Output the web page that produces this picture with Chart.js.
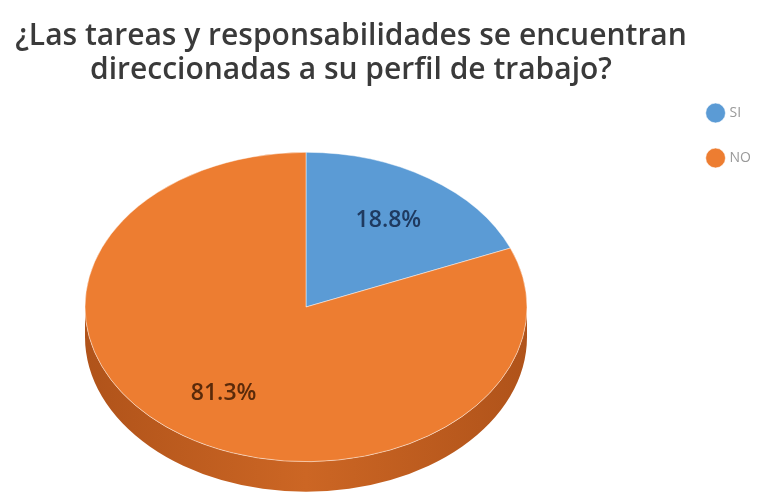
<!DOCTYPE html>
<html>
<head>
<meta charset="utf-8">
<script src="https://cdn.jsdelivr.net/npm/chart.js@4.4.1/dist/chart.umd.min.js"></script>
<style>
  html, body { margin: 0; padding: 0; background: #fff; }
  #wrap { width: 769px; height: 498px; }
</style>
</head>
<body>
<div id="wrap"><canvas id="chart"></canvas></div>
<script>
const titleLines = ['¿Las tareas y responsabilidades se encuentran', 'direccionadas a su perfil de trabajo?'];
const categories = ['SI', 'NO'];
const percentages = [18.8, 81.3];

const sliceColors = ['#5b9bd5', '#ed7d31'];
const sideColors = [['#3f6f9e', '#5a8ec4'], ['#b0531a', '#cc6624']];
const labelColors = ['#1f3a60', '#5a2a0a'];
const FONT = '"Open Sans", "Noto Sans", sans-serif';
const PIE_CENTER = { x: 306, y: 307 }; // where the top face of the pie sits
const TILT = 0.70;      // vertical squash of the pie top
const DEPTH = 30;       // thickness of the 3d edge in px
const LABEL_POS = 0.67; // label distance from centre, share of radius

// fake 3d pie: move + squash the arcs and paint an edge under the front half
const pie3d = {
  id: 'pie3d',
  beforeDatasetsDraw(chart) {
    const ctx = chart.ctx;
    const arcs = chart.getDatasetMeta(0).data;
    const cx = arcs[0].x, cy = arcs[0].y;
    ctx.save();
    ctx.translate(PIE_CENTER.x, PIE_CENTER.y);
    ctx.scale(1, TILT);
    ctx.translate(-cx, -cy);
    const d = DEPTH / TILT;
    arcs.forEach((arc, i) => {
      const r = arc.outerRadius;
      const grad = ctx.createLinearGradient(cx - r, 0, cx + r, 0);
      grad.addColorStop(0, sideColors[i][0]);
      grad.addColorStop(0.5, sideColors[i][1]);
      grad.addColorStop(1, sideColors[i][0]);
      for (let k = -1; k <= 1; k++) {
        const a = Math.max(arc.startAngle, k * 2 * Math.PI);
        const b = Math.min(arc.endAngle, k * 2 * Math.PI + Math.PI);
        if (b <= a) continue;
        ctx.beginPath();
        ctx.arc(cx, cy, r, a, b);
        ctx.arc(cx, cy + d, r, b, a, true);
        ctx.closePath();
        ctx.fillStyle = grad;
        ctx.fill();
      }
    });
  },
  afterDatasetsDraw(chart) {
    const ctx = chart.ctx;
    ctx.restore();
    const arcs = chart.getDatasetMeta(0).data;
    ctx.save();
    ctx.font = '600 23px ' + FONT;
    ctx.textAlign = 'center';
    ctx.textBaseline = 'middle';
    arcs.forEach((arc, i) => {
      const mid = (arc.startAngle + arc.endAngle) / 2;
      const r = arc.outerRadius * LABEL_POS;
      const x = PIE_CENTER.x + Math.cos(mid) * r;
      const y = PIE_CENTER.y + Math.sin(mid) * r * TILT;
      ctx.fillStyle = labelColors[i];
      ctx.fillText(percentages[i].toFixed(1) + '%', x, y);
    });
    ctx.restore();
  }
};

new Chart(document.getElementById('chart'), {
  type: 'pie',
  data: {
    labels: categories,
    datasets: [{
      data: percentages,
      backgroundColor: sliceColors,
      borderColor: 'rgba(255,255,255,0.55)',
      borderWidth: 1,
      radius: 221,
      clip: false
    }]
  },
  options: {
    responsive: true,
    maintainAspectRatio: false,
    animation: false,
    events: [],
    layout: { padding: { left: -59, right: 8, top: 0, bottom: 0 } },
    plugins: {
      title: {
        display: true,
        text: titleLines,
        color: '#3a3a3a',
        font: { family: FONT, size: 30, weight: 600, lineHeight: 1.15 },
        padding: { top: 19, bottom: -13 }
      },
      legend: {
        position: 'right',
        align: 'start',
        fullSize: false,
        labels: {
          usePointStyle: true,
          pointStyle: 'circle',
          boxHeight: 14,
          padding: 31,
          color: '#999999',
          font: { family: FONT, size: 14 }
        }
      },
      tooltip: { enabled: false }
    }
  },
  plugins: [pie3d]
});
</script>
</body>
</html>
